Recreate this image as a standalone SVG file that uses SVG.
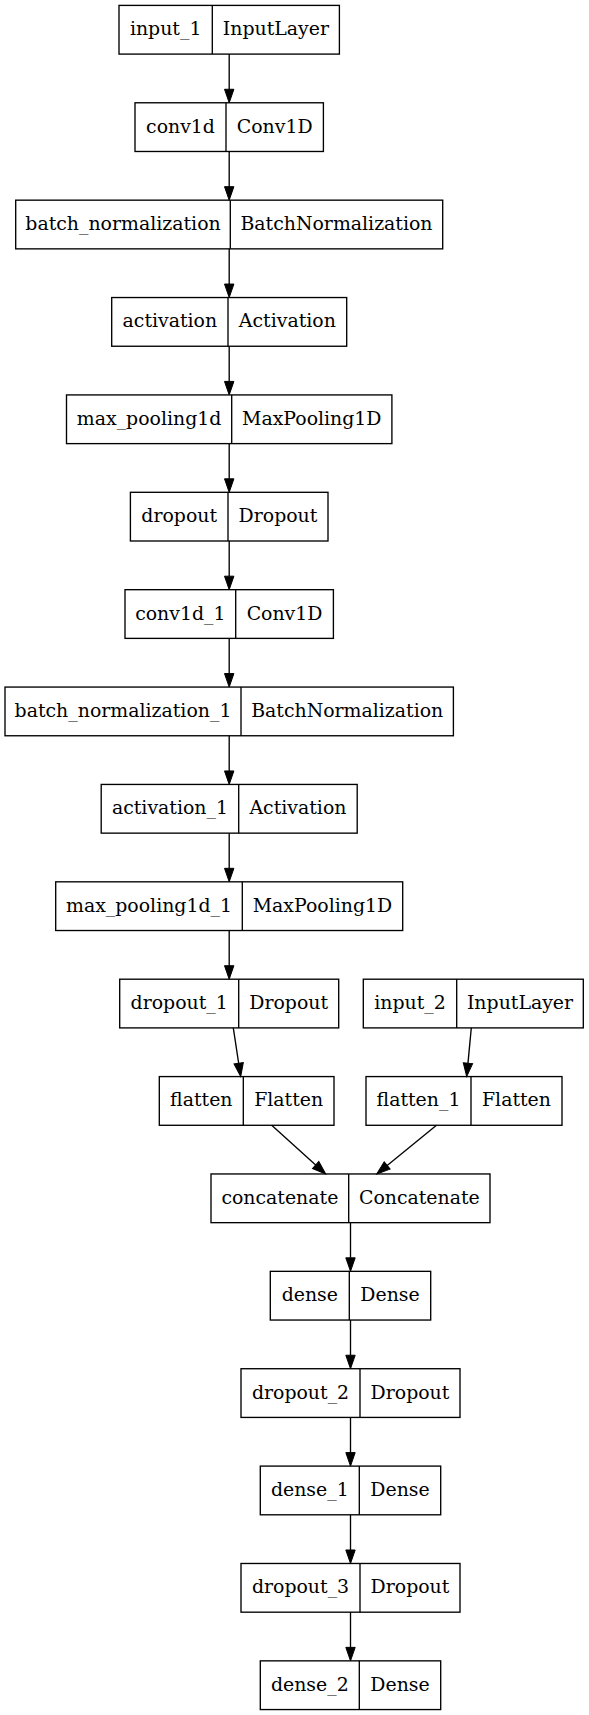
<svg xmlns="http://www.w3.org/2000/svg" width="589" height="1715" viewBox="0 0 589 1715">
<style>
.b{fill:#fff;stroke:#000;stroke-width:1.35}
.d{stroke:#000;stroke-width:1.35}
text{font-family:"DejaVu Serif",serif;font-size:18.9px;text-anchor:middle;fill:#000}
.e{stroke:#000;stroke-width:1.35;fill:none;marker-end:url(#ah)}
</style>
<defs>
<marker id="ah" markerUnits="userSpaceOnUse" markerWidth="14" markerHeight="10" refX="0" refY="4.7" orient="auto" overflow="visible">
<path d="M0,0 L13.5,4.7 L0,9.4 z" fill="#000" stroke="#000" stroke-width="1"/>
</marker>
</defs>
<rect width="589" height="1715" fill="#fff"/>
<g id="input_1"><rect class="b" x="119" y="5.4" width="220.4" height="48.7"/><line class="d" x1="212.3" y1="5.4" x2="212.3" y2="54.1"/><text x="165.65" y="35.25">input_1</text><text x="275.85" y="35.25">InputLayer</text></g>
<g id="conv1d"><rect class="b" x="135" y="102.78" width="188.4" height="48.7"/><line class="d" x1="226" y1="102.78" x2="226" y2="151.48"/><text x="180.5" y="132.63">conv1d</text><text x="274.7" y="132.63">Conv1D</text></g>
<g id="batch_normalization"><rect class="b" x="15.7" y="200.16" width="427" height="48.7"/><line class="d" x1="230.3" y1="200.16" x2="230.3" y2="248.86"/><text x="123" y="230.01">batch_normalization</text><text x="336.5" y="230.01">BatchNormalization</text></g>
<g id="activation"><rect class="b" x="111.7" y="297.54" width="235" height="48.7"/><line class="d" x1="228" y1="297.54" x2="228" y2="346.24"/><text x="169.85" y="327.39">activation</text><text x="287.35" y="327.39">Activation</text></g>
<g id="max_pooling1d"><rect class="b" x="66.5" y="394.92" width="325.4" height="48.7"/><line class="d" x1="231.7" y1="394.92" x2="231.7" y2="443.62"/><text x="149.1" y="424.77">max_pooling1d</text><text x="311.8" y="424.77">MaxPooling1D</text></g>
<g id="dropout"><rect class="b" x="130.4" y="492.3" width="197.6" height="48.7"/><line class="d" x1="228" y1="492.3" x2="228" y2="541"/><text x="179.2" y="522.15">dropout</text><text x="278" y="522.15">Dropout</text></g>
<g id="conv1d_1"><rect class="b" x="125" y="589.68" width="208.4" height="48.7"/><line class="d" x1="235.7" y1="589.68" x2="235.7" y2="638.38"/><text x="180.35" y="619.53">conv1d_1</text><text x="284.55" y="619.53">Conv1D</text></g>
<g id="batch_normalization_1"><rect class="b" x="5" y="687.06" width="448.4" height="48.7"/><line class="d" x1="241" y1="687.06" x2="241" y2="735.76"/><text x="123" y="716.91">batch_normalization_1</text><text x="347.2" y="716.91">BatchNormalization</text></g>
<g id="activation_1"><rect class="b" x="101.2" y="784.44" width="256" height="48.7"/><line class="d" x1="238.7" y1="784.44" x2="238.7" y2="833.14"/><text x="169.95" y="814.29">activation_1</text><text x="297.95" y="814.29">Activation</text></g>
<g id="max_pooling1d_1"><rect class="b" x="55.7" y="881.82" width="347" height="48.7"/><line class="d" x1="242.3" y1="881.82" x2="242.3" y2="930.52"/><text x="149" y="911.67">max_pooling1d_1</text><text x="322.5" y="911.67">MaxPooling1D</text></g>
<g id="dropout_1"><rect class="b" x="119.7" y="979.2" width="219" height="48.7"/><line class="d" x1="238.7" y1="979.2" x2="238.7" y2="1027.9"/><text x="179.2" y="1009.05">dropout_1</text><text x="288.7" y="1009.05">Dropout</text></g>
<g id="input_2"><rect class="b" x="363.3" y="979.2" width="220" height="48.7"/><line class="d" x1="456.7" y1="979.2" x2="456.7" y2="1027.9"/><text x="410" y="1009.05">input_2</text><text x="520" y="1009.05">InputLayer</text></g>
<g id="flatten"><rect class="b" x="159.3" y="1076.58" width="174.7" height="48.7"/><line class="d" x1="243.3" y1="1076.58" x2="243.3" y2="1125.28"/><text x="201.3" y="1106.43">flatten</text><text x="288.65" y="1106.43">Flatten</text></g>
<g id="flatten_1"><rect class="b" x="366" y="1076.58" width="196" height="48.7"/><line class="d" x1="471" y1="1076.58" x2="471" y2="1125.28"/><text x="418.5" y="1106.43">flatten_1</text><text x="516.5" y="1106.43">Flatten</text></g>
<g id="concatenate"><rect class="b" x="211" y="1173.96" width="279" height="48.7"/><line class="d" x1="348.7" y1="1173.96" x2="348.7" y2="1222.66"/><text x="279.85" y="1203.81">concatenate</text><text x="419.35" y="1203.81">Concatenate</text></g>
<g id="dense"><rect class="b" x="270.3" y="1271.34" width="160.4" height="48.7"/><line class="d" x1="349.3" y1="1271.34" x2="349.3" y2="1320.04"/><text x="309.8" y="1301.19">dense</text><text x="390" y="1301.19">Dense</text></g>
<g id="dropout_2"><rect class="b" x="241" y="1368.72" width="219" height="48.7"/><line class="d" x1="360" y1="1368.72" x2="360" y2="1417.42"/><text x="300.5" y="1398.57">dropout_2</text><text x="410" y="1398.57">Dropout</text></g>
<g id="dense_1"><rect class="b" x="260.3" y="1466.1" width="180.4" height="48.7"/><line class="d" x1="359.3" y1="1466.1" x2="359.3" y2="1514.8"/><text x="309.8" y="1495.95">dense_1</text><text x="400" y="1495.95">Dense</text></g>
<g id="dropout_3"><rect class="b" x="241" y="1563.48" width="219" height="48.7"/><line class="d" x1="360" y1="1563.48" x2="360" y2="1612.18"/><text x="300.5" y="1593.33">dropout_3</text><text x="410" y="1593.33">Dropout</text></g>
<g id="dense_2"><rect class="b" x="260.3" y="1660.86" width="180.4" height="48.7"/><line class="d" x1="359.3" y1="1660.86" x2="359.3" y2="1709.56"/><text x="309.8" y="1690.71">dense_2</text><text x="400" y="1690.71">Dense</text></g>
<g id="connectors">
<path class="e" d="M229.2,54.1 L229.2,89.28"/>
<path class="e" d="M229.2,151.48 L229.2,186.66"/>
<path class="e" d="M229.2,248.86 L229.2,284.04"/>
<path class="e" d="M229.2,346.24 L229.2,381.42"/>
<path class="e" d="M229.2,443.62 L229.2,478.8"/>
<path class="e" d="M229.2,541 L229.2,576.18"/>
<path class="e" d="M229.2,638.38 L229.2,673.56"/>
<path class="e" d="M229.2,735.76 L229.2,770.94"/>
<path class="e" d="M229.2,833.14 L229.2,868.32"/>
<path class="e" d="M229.2,930.52 L229.2,965.7"/>
<path class="e" d="M233.3,1027.9 L238.67,1063.25"/>
<path class="e" d="M471.3,1027.9 L467.97,1063.16"/>
<path class="e" d="M271.7,1125.28 L315.67,1164.96"/>
<path class="e" d="M436.5,1125.28 L387.17,1165.47"/>
<path class="e" d="M350.5,1222.66 L350.5,1257.84"/>
<path class="e" d="M350.5,1320.04 L350.5,1355.22"/>
<path class="e" d="M350.5,1417.42 L350.5,1452.6"/>
<path class="e" d="M350.5,1514.8 L350.5,1549.98"/>
<path class="e" d="M350.5,1612.18 L350.5,1647.36"/>
</g>
</svg>
